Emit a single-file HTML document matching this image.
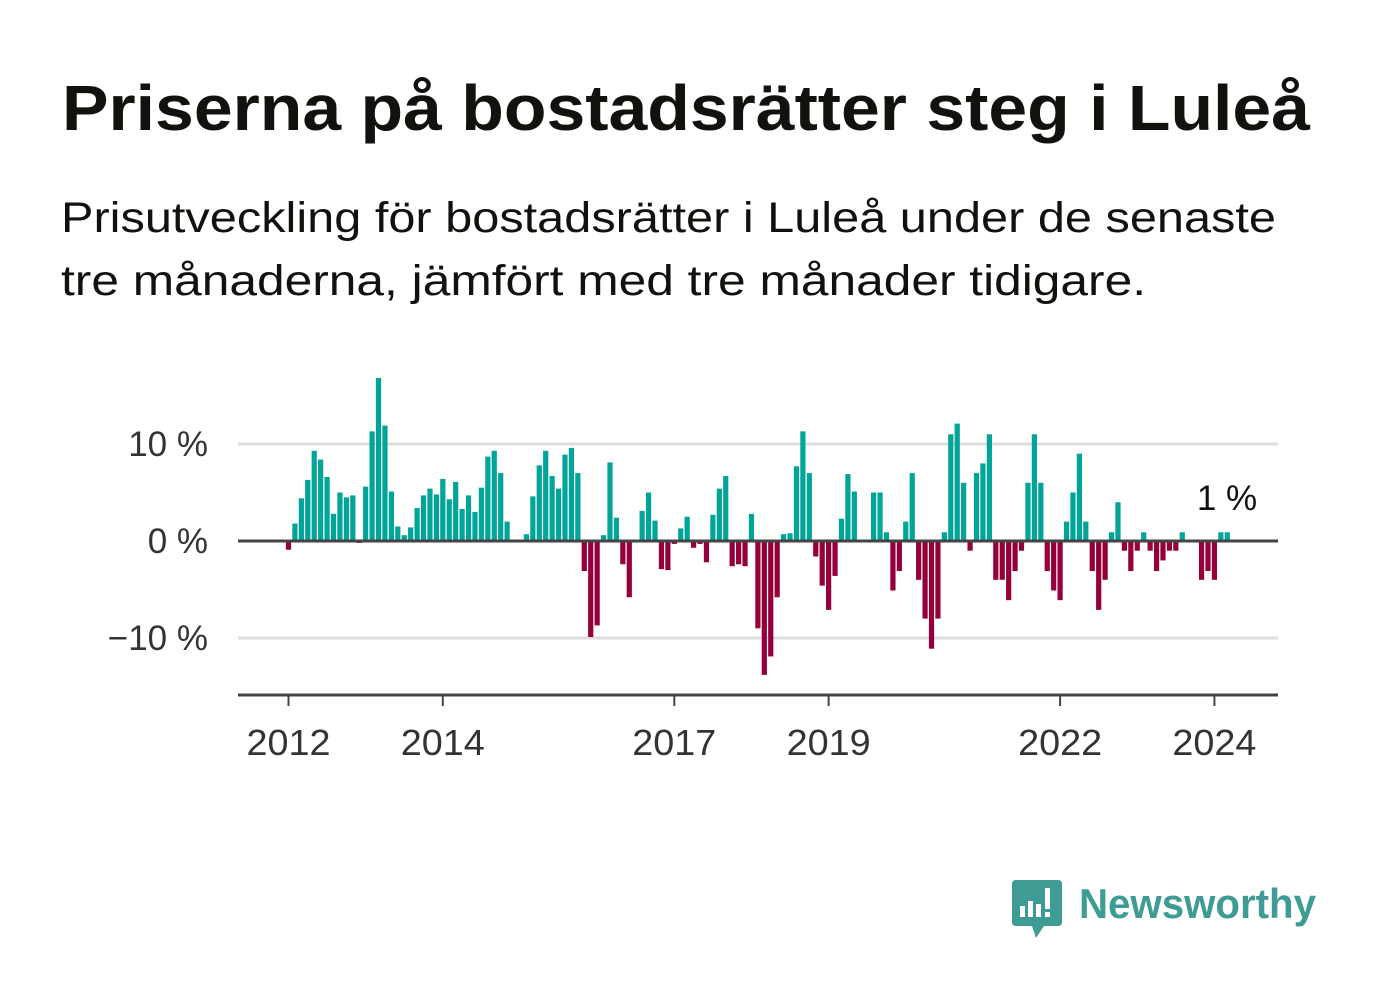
<!DOCTYPE html>
<html><head><meta charset="utf-8">
<style>
html,body{margin:0;padding:0;background:#fff;}
svg{display:block;}
text{font-family:"Liberation Sans",sans-serif;}
</style></head>
<body>
<svg id="chart" width="1382" height="999" viewBox="0 0 1382 999" xmlns="http://www.w3.org/2000/svg">
<rect width="1382" height="999" fill="#fff"/>
<text x="62" y="130" font-size="64" font-weight="bold" fill="#11120d" textLength="1248" lengthAdjust="spacingAndGlyphs">Priserna på bostadsrätter steg i Luleå</text>
<text x="61" y="232" font-size="43" fill="#11120d" textLength="1215" lengthAdjust="spacingAndGlyphs">Prisutveckling för bostadsrätter i Luleå under de senaste</text>
<text x="61" y="295" font-size="43" fill="#11120d" textLength="1085" lengthAdjust="spacingAndGlyphs">tre månaderna, jämfört med tre månader tidigare.</text>
<g id="grid"></g>
<g id="bars"></g>
<g id="axes"></g>
<text x="1227" y="510" font-size="35" fill="#11120d" text-anchor="middle">1 %</text>
<g>
  <path d="M1016 880 H1058 Q1062 880 1062 884 V922 Q1062 926 1058 926 H1044 L1036 938 L1032 926 H1016 Q1012 926 1012 922 V884 Q1012 880 1016 880 Z" fill="#3f9c95"/>
  <rect x="1020" y="906" width="5" height="11" fill="#fff"/>
  <rect x="1028" y="901" width="5" height="16" fill="#fff"/>
  <rect x="1036" y="904" width="5" height="13" fill="#fff"/>
  <rect x="1045" y="888" width="5" height="21" fill="#fff"/>
  <rect x="1045" y="912" width="5" height="5" fill="#fff"/>
  <text x="1079" y="918" font-size="42" font-weight="bold" fill="#3f9c95" textLength="237" lengthAdjust="spacingAndGlyphs">Newsworthy</text>
</g>
</svg>
<script>
const values = [-0.9,1.8,4.4,6.3,9.3,8.4,6.6,2.8,5.0,4.5,4.7,-0.2,
5.6,11.3,16.8,11.9,5.1,1.5,0.6,1.4,3.4,4.7,5.4,4.8,
6.4,4.3,6.1,3.3,4.7,3.0,5.5,8.7,9.3,7.0,2.0,0,
0,0.7,4.6,7.8,9.3,6.7,5.4,8.9,9.6,7.0,-3.1,-9.9,
-8.7,0.6,8.1,2.4,-2.4,-5.8,0,3.1,5.0,2.1,-2.9,-3.0,
-0.3,1.3,2.5,-0.7,-0.3,-2.2,2.7,5.4,6.7,-2.6,-2.4,-2.6,
2.8,-9.0,-13.8,-11.9,-5.8,0.7,0.8,7.7,11.3,7.0,-1.6,-4.6,
-7.1,-3.6,2.3,6.9,5.1,0,0,5.0,5.0,0.9,-5.1,-3.1,
2.0,7.0,-4.0,-8.0,-11.1,-8.0,0.9,11.0,12.1,6.0,-1.0,7.0,
8.0,11.0,-4.0,-4.0,-6.1,-3.1,-1.0,6.0,11.0,6.0,-3.1,-5.1,
-6.1,2.0,5.0,9.0,2.0,-3.1,-7.1,-4.0,0.9,4.0,-1.0,-3.1,
-1.0,0.9,-1.0,-3.1,-2.0,-1.0,-1.0,0.9,0,0,-4.0,-3.1,
-4.0,0.9,0.9];
const startYear = 2012;
const yTicks = [-10, 0, 10];
const yTickLabels = ["\u221210 %", "0 %", "10 %"];
const xTickYears = [2012, 2014, 2017, 2019, 2022, 2024];

const NS = "http://www.w3.org/2000/svg";
const x0 = 288.5, monthW = 6.43;
function xScale(i){ return x0 + i * monthW; }
function yScale(v){ return 541 - v * 9.7; }
function mk(tag, attrs, parent){ const e = document.createElementNS(NS, tag); for (const k in attrs) e.setAttribute(k, attrs[k]); parent.appendChild(e); return e; }

const grid = document.getElementById('grid');
yTicks.forEach((t, k) => {
  const l = mk('line', {x1:238, x2:1278, y1:yScale(t), y2:yScale(t), stroke: t===0 ? 'none' : '#dedede', 'stroke-width':3}, grid);
  
  
  const tx = mk('text', {x:208, y:yScale(t)+12, 'font-size':35, fill:'#333', 'text-anchor':'end'}, grid);
  tx.textContent = yTickLabels[k];
  
  
});

const bars = document.getElementById('bars');
values.forEach((v, i) => {
  if (v === 0) return;
  const y = v > 0 ? yScale(v) : yScale(0);
  const h = Math.abs(yScale(v) - yScale(0));
  const r = mk('rect', {x:xScale(i)-2.6, y:y, width:5.2, height:h, fill: v > 0 ? '#00a499' : '#95003a'}, bars);
  
  
});

const axes = document.getElementById('axes');
const zl = mk('line', {x1:238, x2:1278, y1:yScale(0), y2:yScale(0), stroke:'#444', 'stroke-width':3}, axes);


const xa = mk('line', {x1:238, x2:1278, y1:695, y2:695, stroke:'#444', 'stroke-width':3}, axes);


xTickYears.forEach(yr => {
  const xx = xScale((yr - startYear) * 12);
  const t = mk('line', {x1:xx, x2:xx, y1:695, y2:706, stroke:'#444', 'stroke-width':2}, axes);
  
  
  const tx = mk('text', {x:xx, y:755, 'font-size':36, fill:'#333', 'text-anchor':'middle', textLength:84, lengthAdjust:'spacingAndGlyphs'}, axes);
  tx.textContent = String(yr);
  
  
});
</script>
</body></html>
